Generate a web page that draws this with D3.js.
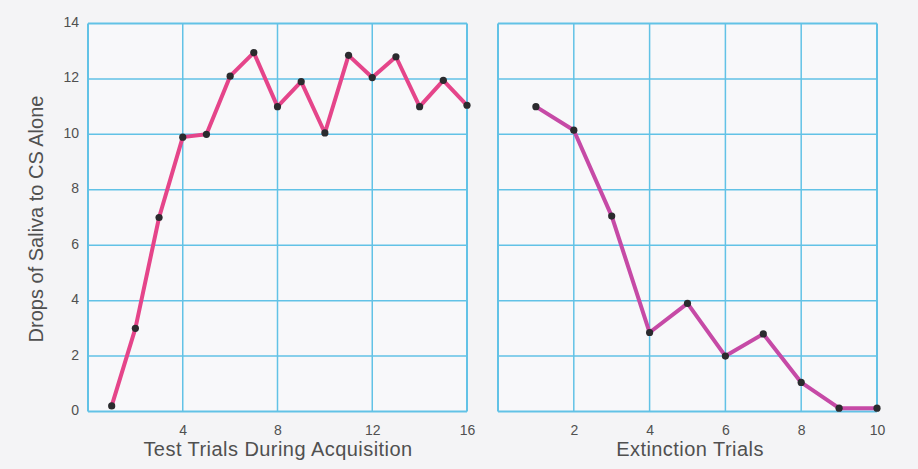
<!DOCTYPE html>
<html>
<head>
<meta charset="utf-8">
<script src="https://cdn.jsdelivr.net/npm/d3@7"></script>
<style>
  html, body { margin: 0; padding: 0; background: #f4f4f6; }
  svg { display: block; }
</style>
</head>
<body>
<script>
// ---- Data ----
const acqTrials = [1, 2, 3, 4, 5, 6, 7, 8, 9, 10, 11, 12, 13, 14, 15, 16];
const acqDrops  = [0.2, 3, 7, 9.9, 10, 12.1, 12.95, 11, 11.9, 10.05, 12.85, 12.05, 12.8, 11, 11.95, 11.05];
const extTrials = [1, 2, 3, 4, 5, 6, 7, 8, 9, 10];
const extDrops  = [11, 10.15, 7.05, 2.85, 3.9, 2.0, 2.8, 1.05, 0.12, 0.12];
const yTicks    = [0, 2, 4, 6, 8, 10, 12, 14];
const acqXTicks = [4, 8, 12, 16];
const extXTicks = [2, 4, 6, 8, 10];
const yLabel    = "Drops of Saliva to CS Alone";
const acqXLabel = "Test Trials During Acquisition";
const extXLabel = "Extinction Trials";

const W = 918, H = 469;
const FONT = "'Liberation Sans', Arial, Helvetica, sans-serif";
const GRID = "#62c2e6";
const TEXT = "#505050";

const svg = d3.select("body").append("svg").attr("width", W).attr("height", H);
svg.append("rect").attr("width", W).attr("height", H).attr("fill", "#f4f4f6");

const y = d3.scaleLinear().domain([0, 14]).range([411.5, 23.5]);

function panel(opts) {
  const x = d3.scaleLinear().domain(opts.xDomain).range(opts.xRange);
  const g = svg.append("g");
  // plot background
  g.append("rect")
    .attr("x", opts.xRange[0]).attr("y", y(14))
    .attr("width", opts.xRange[1] - opts.xRange[0]).attr("height", y(0) - y(14))
    .attr("fill", "#f8f8fa");
  // horizontal grid
  g.selectAll(".hg").data(yTicks).join("line")
    .attr("x1", opts.xRange[0]).attr("x2", opts.xRange[1])
    .attr("y1", d => y(d)).attr("y2", d => y(d))
    .attr("stroke", GRID).attr("stroke-width", d => (d === 0 || d === 14) ? 2 : 1.5);
  // vertical grid
  const vt = [opts.xDomain[0]].concat(opts.xTicks);
  g.selectAll(".vg").data(vt).join("line")
    .attr("x1", d => x(d)).attr("x2", d => x(d))
    .attr("y1", y(0)).attr("y2", y(14))
    .attr("stroke", GRID).attr("stroke-width", (d, i) => (i === 0 || d === opts.xDomain[1]) ? 2 : 1.5);

  // x axis tick labels via d3 axis
  const xAxis = d3.axisBottom(x).tickValues(opts.xTicks).tickSize(0).tickPadding(0);
  const xa = g.append("g").attr("transform", `translate(0, 425)`).call(xAxis);
  xa.select(".domain").remove();
  xa.selectAll("text").attr("font-family", FONT).attr("font-size", 14).attr("fill", TEXT);

  if (opts.showY) {
    const yAxis = d3.axisLeft(y).tickValues(yTicks).tickSize(0).tickPadding(0);
    const ya = g.append("g").attr("transform", `translate(${opts.xRange[0] - 9}, -1.5)`).call(yAxis);
    ya.select(".domain").remove();
    ya.selectAll("text").attr("font-family", FONT).attr("font-size", 14).attr("fill", TEXT);
  }

  // axis title
  g.append("text")
    .attr("x", (opts.titleX)).attr("y", 456)
    .attr("text-anchor", "middle")
    .attr("font-family", FONT).attr("font-size", 20).attr("letter-spacing", 0.45)
    .attr("fill", TEXT)
    .text(opts.title);

  // line
  const pts = opts.xs.map((d, i) => [d, opts.ys[i]]);
  const line = d3.line().x(d => x(d[0])).y(d => y(d[1]));
  g.append("path").datum(pts)
    .attr("d", line).attr("fill", "none")
    .attr("stroke", opts.color).attr("stroke-width", 4)
    .attr("stroke-linejoin", "round").attr("stroke-linecap", "round");
  g.selectAll(".pt").data(pts).join("circle")
    .attr("cx", d => x(d[0])).attr("cy", d => y(d[1]))
    .attr("r", 3.6).attr("fill", "#2b2b2e");
}

panel({
  xDomain: [0, 16], xRange: [88, 467], xTicks: acqXTicks,
  xs: acqTrials, ys: acqDrops, color: "#e5458a",
  title: acqXLabel, titleX: 278, showY: true
});
panel({
  xDomain: [0, 10], xRange: [498, 877], xTicks: extXTicks,
  xs: extTrials, ys: extDrops, color: "#c64aa6",
  title: extXLabel, titleX: 690, showY: false
});

// y axis title
svg.append("text")
  .attr("transform", `translate(43, 219) rotate(-90)`)
  .attr("text-anchor", "middle")
  .attr("font-family", FONT).attr("font-size", 20).attr("fill", TEXT)
  .text(yLabel);
</script>
</body>
</html>
